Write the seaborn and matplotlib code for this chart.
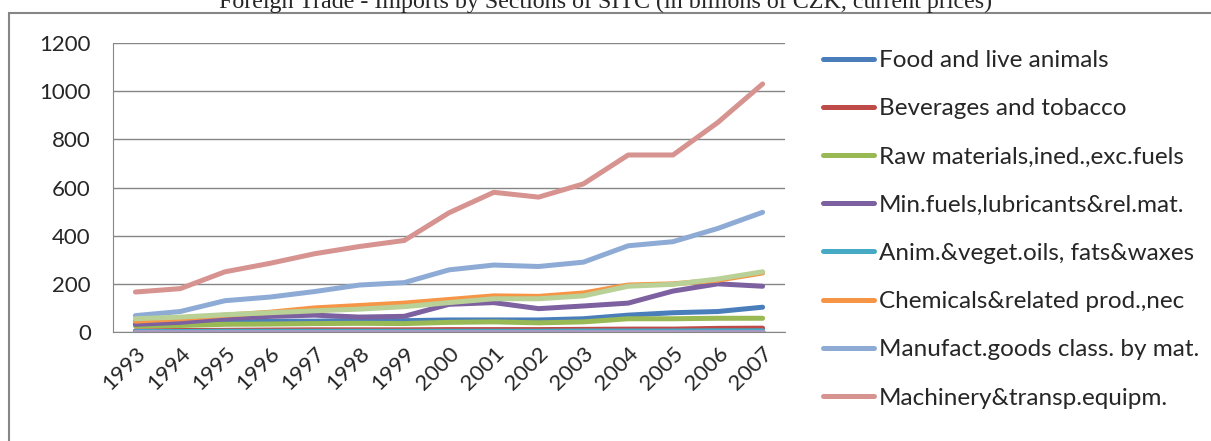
import numpy as np
import pandas as pd
import matplotlib.pyplot as plt
import seaborn as sns
from matplotlib.patches import Rectangle
from matplotlib.lines import Line2D

sns.set_style("white")
plt.rcParams['font.family'] = ['Lato', 'DejaVu Sans']

years = [str(y) for y in range(1993, 2008)]

food = [30, 35, 40, 45, 45, 48, 47, 50, 50, 50, 55, 70, 80, 85, 103]
beverages = [5, 6, 7, 8, 9, 9, 9, 10, 10, 10, 11, 12, 12, 15, 16]
raw_materials = [25, 27, 32, 33, 35, 36, 35, 40, 42, 38, 42, 55, 55, 57, 57]
min_fuels = [32, 40, 55, 65, 70, 62, 65, 115, 122, 97, 108, 120, 170, 200, 190]
anim_oils = [2, 2, 3, 3, 3, 3, 3, 3, 3, 3, 4, 4, 4, 5, 5]
chemicals = [45, 55, 70, 82, 100, 110, 120, 135, 150, 148, 162, 195, 200, 215, 245]
manufact = [68, 85, 130, 145, 168, 195, 205, 258, 278, 272, 290, 358, 375, 430, 497]
machinery = [166, 180, 250, 285, 325, 355, 380, 495, 580, 560, 615, 735, 735, 870, 1030]
misc_manuf = [55, 62, 72, 80, 88, 95, 105, 122, 138, 138, 150, 190, 198, 220, 250]
not_classified = [1, 1, 1, 1, 1, 1, 1, 1, 1, 1, 1, 1, 1, 1, 1]

series_names = ["Food and live animals", "Beverages and tobacco",
                "Raw materials,ined.,exc.fuels", "Min.fuels,lubricants&rel.mat.",
                "Anim.&veget.oils, fats&waxes", "Chemicals&related prod.,nec",
                "Manufact.goods class. by mat.", "Machinery&transp.equipm.",
                "Misc.manufact.articles", "Commodities n.e.c."]
series_values = [food, beverages, raw_materials, min_fuels, anim_oils, chemicals,
                 manufact, machinery, misc_manuf, not_classified]
colors = ["#4A7EBB", "#BE4B48", "#98B954", "#7D60A0", "#46AAC5", "#F69546",
          "#8EABD6", "#D69390", "#B9D196", "#A898C2"]

rows = []
for name, vals in zip(series_names, series_values):
    for i, v in enumerate(vals):
        rows.append({"pos": i, "year": years[i], "series": name, "value": v})
df = pd.DataFrame(rows)

fig = plt.figure(figsize=(12.11, 4.41), dpi=100)
ax = fig.add_axes([113 / 1211, 1 - 332 / 441, (785 - 113) / 1211, (332 - 43) / 441])

sns.lineplot(data=df, x="pos", y="value", hue="series", hue_order=series_names,
             palette=colors, linewidth=3.6, ax=ax, legend=False,
             solid_capstyle="round")
for i, ln in enumerate(ax.get_lines()):
    ln.set_zorder(2 + i * 0.01)

ax.set_xlim(-0.5, len(years) - 0.5)
ax.set_ylim(0, 1200)
ax.set_yticks(np.arange(0, 1201, 200))
ax.set_xticks(np.arange(len(years)))
ax.set_xticklabels(years, rotation=45, ha="right", rotation_mode="anchor", fontsize=16)
ax.set_xticks(np.arange(-0.5, len(years)), minor=True)
ax.tick_params(axis="x", which="major", length=0, pad=8)
ax.tick_params(axis="x", which="minor", length=6, width=1, color="#868686", direction="out")
ax.tick_params(axis="y", length=6, width=1, color="#868686", direction="out", labelsize=16, pad=10)
ax.yaxis.grid(True, color="#868686", linewidth=1)
ax.set_axisbelow(True)
for s in ["top", "right"]:
    ax.spines[s].set_visible(False)
ax.spines["left"].set_color("#868686")
ax.spines["bottom"].set_color("#868686")
ax.set_xlabel("")
ax.set_ylabel("")

handles = [Line2D([0], [0], color=c, linewidth=3.6, solid_capstyle="round") for c in colors[:8]]
fig.legend(handles, series_names[:8], loc="upper left",
           bbox_to_anchor=(823 / 1211, 1 - 50 / 441), frameon=False,
           fontsize=17.5, handlelength=2.1, handletextpad=0.2, labelspacing=1.12,
           borderaxespad=0, borderpad=0)

# outer chart border
fig.patches.append(Rectangle((9 / 1211, -0.05), 1.0, 1 - 13 / 441 + 0.05,
                             transform=fig.transFigure, fill=False,
                             edgecolor="#868686", linewidth=1.5))

fig.text(0.5, 1 - 2 / 441, "Foreign Trade - Imports by Sections of SITC (in billions of CZK, current prices)",
         ha="center", va="center", fontsize=17.3, family=["Liberation Serif"])

fig.savefig("out.png", dpi=100)
